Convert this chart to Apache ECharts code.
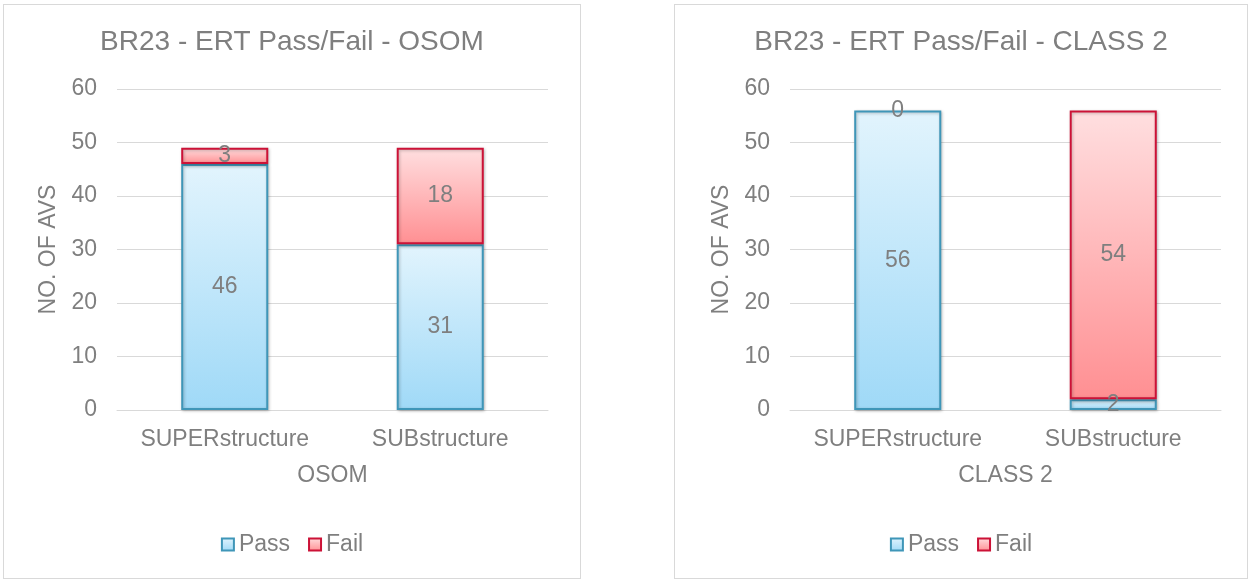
<!DOCTYPE html>
<html>
<head>
<meta charset="utf-8">
<title>BR23 - ERT Pass/Fail</title>
<script src="https://cdn.jsdelivr.net/npm/echarts@6/dist/echarts.min.js"></script>
<style>
    body { margin: 0; background: #ffffff; }
    .chart-box { position: absolute; top: 4px; height: 573px; border: 1px solid #d9d9d9; background: #fff; }
    #chart-osom { left: 3px; width: 576px; }
    #chart-class2 { left: 674px; width: 572px; }
</style>
</head>
<body>
<div id="chart-osom" class="chart-box"></div>
<div id="chart-class2" class="chart-box"></div>
<script>
// data
var categories = ['SUPERstructure', 'SUBstructure'];
var seriesNames = ['Pass', 'Fail'];
var osomPass = [46, 31];
var osomFail = [3, 18];
var class2Pass = [56, 2];
var class2Fail = [0, 54];
var yMin = 0, yMax = 60, yStep = 10;

var textGray = '#7f7f7f';
var fontName = "'Liberation Sans', Arial, sans-serif";

function bar_style(topColor, bottomColor, lineColor){
    return {
        color: new echarts.graphic.LinearGradient(0, 0, 0, 1, [
            {offset: 0, color: topColor},
            {offset: 1, color: bottomColor}
        ]),
        borderColor: lineColor,
        borderWidth: 2,
        shadowColor: 'rgba(0,0,0,0.25)',
        shadowBlur: 3,
        shadowOffsetX: 1,
        shadowOffsetY: 1
    };
}

// zero-height segments get no outline, like the original
function to_items(values){
    return values.map(function(v){
        if ( 0 == v ){
            return {value: v, itemStyle: {borderWidth: 0, shadowBlur: 0}};
        }
        return v;
    });
}

function draw_bar_chart(divID, titleText, axisName, passData, failData, gridLeft){
    var myChart = echarts.init(document.getElementById(divID));
    var labelStyle = {
        show: true,
        position: 'inside',
        color: textGray,
        fontSize: 23,
        fontFamily: fontName
    };
    var option = {
        animation: false,
        textStyle: {fontFamily: fontName},
        title: {
            text: titleText,
            left: 'center',
            top: 18,
            textStyle: {color: textGray, fontSize: 28, fontWeight: 'normal', fontFamily: fontName}
        },
        legend: {
            data: seriesNames,
            left: 'center',
            top: 523,
            icon: 'rect',
            itemWidth: 12,
            itemHeight: 12,
            itemGap: 18,
            textStyle: {color: textGray, fontSize: 23, fontFamily: fontName}
        },
        grid: {left: gridLeft, top: 84, width: 431, height: 321},
        xAxis: {
            type: 'category',
            data: categories,
            name: axisName,
            nameLocation: 'middle',
            nameGap: 54,
            nameTextStyle: {color: textGray, fontSize: 23, fontFamily: fontName},
            axisLine: {lineStyle: {color: '#d9d9d9', width: 1}},
            axisTick: {show: false},
            axisLabel: {color: textGray, fontSize: 23, margin: 18, interval: 0, hideOverlap: false, fontFamily: fontName}
        },
        yAxis: {
            type: 'value',
            min: yMin,
            max: yMax,
            interval: yStep,
            name: 'NO. OF AVS',
            nameLocation: 'middle',
            nameGap: 57,
            nameTextStyle: {color: textGray, fontSize: 23, fontFamily: fontName},
            axisLine: {show: false},
            axisTick: {show: false},
            axisLabel: {color: textGray, fontSize: 23, margin: 20, fontFamily: fontName},
            splitLine: {lineStyle: {color: '#d9d9d9', width: 1}}
        },
        series: [
            {
                name: seriesNames[0],
                type: 'bar',
                stack: 'total',
                barWidth: '40.4%',
                data: to_items(passData),
                label: labelStyle,
                itemStyle: bar_style('#e2f4fd', '#9fd9f7', '#3f96b8')
            },
            {
                name: seriesNames[1],
                type: 'bar',
                stack: 'total',
                barWidth: '40.4%',
                data: to_items(failData),
                label: labelStyle,
                itemStyle: bar_style('#ffdfe0', '#ff8f92', '#cc1237')
            }
        ]
    };
    myChart.setOption(option);
}

draw_bar_chart('chart-osom', 'BR23 - ERT Pass/Fail - OSOM', 'OSOM', osomPass, osomFail, 113);
draw_bar_chart('chart-class2', 'BR23 - ERT Pass/Fail - CLASS 2', 'CLASS 2', class2Pass, class2Fail, 115);
</script>
</body>
</html>
